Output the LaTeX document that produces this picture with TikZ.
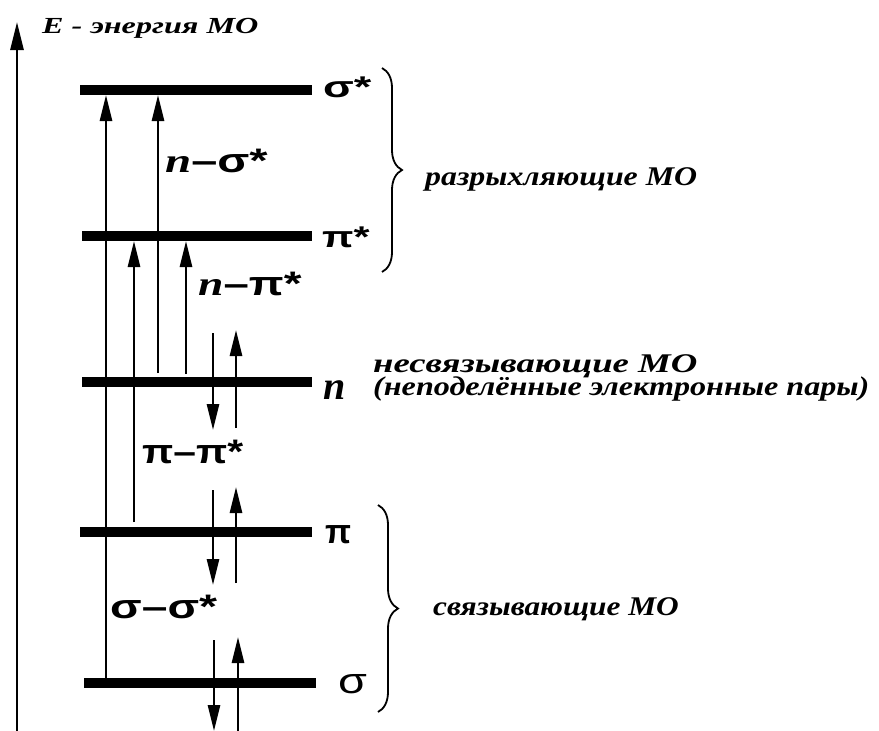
\documentclass[tikz,border=0pt]{standalone}
\usepackage{graphicx}
\usepackage{fontspec}
\setmainfont{Liberation Serif}
\newfontfamily\lsans{Liberation Sans}
\usetikzlibrary{arrows.meta,decorations.pathreplacing}
\newcommand{\wx}[2]{\scalebox{#1}[1]{#2}}
\tikzset{
  level/.style={line width=10pt},
  trans/.style={line width=2.7pt,-{Triangle[length=26pt,width=12pt]}},
  axisarrow/.style={line width=2.8pt,-{Triangle[length=28pt,width=13pt]}},
  bracestyle/.style={line width=1.8pt,decorate,decoration={brace,amplitude=20pt}},
  bitext/.style={font=\fontsize{27}{21}\selectfont\bfseries\itshape,inner sep=0pt,anchor=base west},
  trlab/.style={font=\fontsize{34}{34}\selectfont\lsans\bfseries,inner sep=0pt,anchor=base west},
  lvlab/.style={font=\fontsize{30}{30}\selectfont\lsans\bfseries,inner sep=0pt,anchor=base west},
}
\begin{document}
\begin{tikzpicture}[x=1pt,y=-1pt]
\useasboundingbox (0,0) rectangle (879,731);
% axis
\coordinate (ax0) at (17,731);
\coordinate (ax1) at (17,22);
\draw[axisarrow] (ax0) -- (ax1);
\node[font=\fontsize{23}{23}\selectfont\bfseries\itshape,inner sep=0pt,anchor=base west] (etitle) at (42,33) {\wx{1.40}{E - энергия МО}};
% levels
\coordinate (sS1) at (80,90);  \coordinate (sS2) at (312,90);
\coordinate (pS1) at (82,236); \coordinate (pS2) at (312,236);
\coordinate (n1) at (82,382);  \coordinate (n2) at (312,382);
\coordinate (p1) at (80,532);  \coordinate (p2) at (312,532);
\coordinate (s1) at (84,683);  \coordinate (s2) at (316,683);
\draw[level] (sS1) -- (sS2);
\draw[level] (pS1) -- (pS2);
\draw[level] (n1) -- (n2);
\draw[level] (p1) -- (p2);
\draw[level] (s1) -- (s2);
% transitions
\coordinate (t1a) at (106,678); \coordinate (t1b) at (106,95);
\coordinate (t2a) at (158,373); \coordinate (t2b) at (158,95);
\coordinate (t3a) at (134,522); \coordinate (t3b) at (134,241);
\coordinate (t4a) at (186,374); \coordinate (t4b) at (186,241);
\draw[trans] (t1a) -- (t1b);
\draw[trans] (t2a) -- (t2b);
\draw[trans] (t3a) -- (t3b);
\draw[trans] (t4a) -- (t4b);
% electron pairs
\coordinate (nd1) at (213,333); \coordinate (nd2) at (213,430);
\coordinate (nu1) at (236,428); \coordinate (nu2) at (236,330);
\coordinate (pd1) at (213,490); \coordinate (pd2) at (213,585);
\coordinate (pu1) at (236,583); \coordinate (pu2) at (236,487);
\coordinate (sd1) at (214,640); \coordinate (sd2) at (214,731);
\coordinate (su1) at (238,731); \coordinate (su2) at (238,637);
\draw[trans] (nd1) -- (nd2);
\draw[trans] (nu1) -- (nu2);
\draw[trans] (pd1) -- (pd2);
\draw[trans] (pu1) -- (pu2);
\draw[trans] (sd1) -- (sd2);
\draw[trans] (su1) -- (su2);
% transition labels
\node[trlab] (lns) at (165,172) {\wx{1.38}{{\rmfamily\itshape n}–σ*}};
\node[trlab] (lnp) at (198,295) {\wx{1.34}{{\rmfamily\itshape n}–π*}};
\node[trlab] (lpp) at (142,463) {\wx{1.20}{π–π*}};
\node[trlab] (lss) at (110,618) {\wx{1.36}{σ–σ*}};
% level labels
\node[lvlab] (lsS) at (323,97) {\wx{1.50}{σ*}};
\node[lvlab] (lpS) at (322,247) {\wx{1.37}{π*}};
\node[lvlab,font=\fontsize{40}{40}\selectfont\bfseries\itshape] (ln) at (323,399) {n};
\node[lvlab,font=\fontsize{34}{34}\selectfont\lsans\bfseries] (lp) at (325,543) {π};
\node[lvlab,font=\fontsize{36}{36}\selectfont\lsans] (ls) at (338,693) {\wx{1.30}{σ}};
% braces
\coordinate (b1t) at (382,68); \coordinate (b1b) at (382,272);
\coordinate (b2t) at (378,505); \coordinate (b2b) at (378,712);
\draw[bracestyle] (b1t) -- (b1b);
\draw[bracestyle] (b2t) -- (b2b);
\node[bitext] (anti) at (425,185) {\wx{1.18}{разрыхляющие МО}};
\node[bitext] (bond) at (433,615) {\wx{1.16}{связывающие МО}};
\node[bitext] (nonb) at (373,395) {\vbox{\baselineskip=23pt\lineskiplimit=-50pt
  \hbox{\wx{1.36}{несвязывающие МО}}
  \hbox{\wx{1.19}{(неподелённые электронные пары)}}}};
\end{tikzpicture}
\end{document}
